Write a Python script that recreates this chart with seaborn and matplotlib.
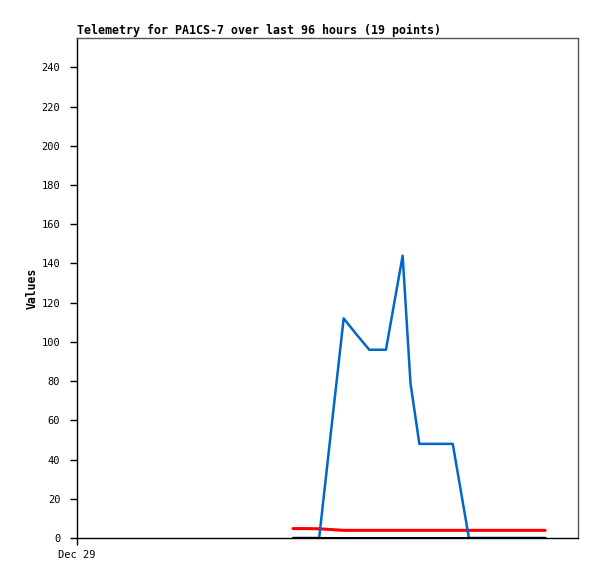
import matplotlib
matplotlib.use("Agg")
from matplotlib import pyplot as plt
import pandas as pd
import seaborn as sns

# Hours since Dec 29 00:00, one entry per telemetry point (19 points)
hours = [41.4, 43.9, 46.4, 48.7, 51.1, 53.5, 56.0, 59.2, 62.4, 63.9,
         65.6, 68.8, 72.0, 75.1, 78.8, 82.4, 86.1, 88.0, 89.7]
ch_blue = [0, 0, 0, 55, 112, 104, 96, 96, 144, 79,
           48, 48, 48, 0, 0, 0, 0, 0, 0]
ch_red = [4.8, 4.8, 4.7, 4.3, 3.9, 3.9, 3.9, 3.9, 3.9, 3.9,
          3.9, 3.9, 3.9, 3.9, 3.9, 3.9, 3.9, 3.9, 3.9]
ch_black = [0] * 19

y_ticks = list(range(0, 241, 20))
x_tick_labels = ["Dec 29"]

df = pd.concat([
    pd.DataFrame({"hour": hours, "value": ch_red, "channel": "ch3"}),
    pd.DataFrame({"hour": hours, "value": ch_blue, "channel": "ch1"}),
    pd.DataFrame({"hour": hours, "value": ch_black, "channel": "ch2"}),
])

sns.set_style("white")
plt.rcParams["font.family"] = ["DejaVu Sans Mono", "DejaVu Sans"]

fig = plt.figure(figsize=(5.97, 5.79), dpi=100)
ax = fig.add_axes([77 / 597, 41 / 579, 501 / 597, 500 / 579])

palette = {"ch3": "#ff0000", "ch1": "#0066cc", "ch2": "#000000"}
widths = {"ch3": 2.2, "ch1": 1.8, "ch2": 2.2}
for name in ["ch3", "ch1", "ch2"]:
    sub = df[df["channel"] == name]
    sns.lineplot(data=sub, x="hour", y="value", color=palette[name],
                 linewidth=widths[name], ax=ax, legend=False)

ax.set_xlim(0, 96)
ax.set_ylim(0, 255)
ax.set_yticks(y_ticks)
ax.set_yticklabels([str(v) for v in y_ticks])
ax.set_xticks([0])
ax.set_xticklabels(x_tick_labels)
ax.tick_params(axis="both", direction="out", length=5, width=1, color="black",
               labelsize=7.5, labelcolor="black")
ax.tick_params(axis="y", pad=7)
ax.tick_params(axis="x", pad=4)
ax.tick_params(left=True, bottom=True)

for side in ["left", "bottom"]:
    ax.spines[side].set_color("black")
    ax.spines[side].set_linewidth(1)
for side in ["top", "right"]:
    ax.spines[side].set_color("#555555")
    ax.spines[side].set_linewidth(1)

ax.set_xlabel("")
ax.set_ylabel("Values", fontsize=8.3, fontweight="bold", color="black", labelpad=2)
ax.set_title("Telemetry for PA1CS-7 over last 96 hours (19 points)",
             loc="left", fontsize=8.4, fontweight="bold", color="black", pad=3)

fig.savefig("out.png", dpi=100)
plt.close(fig)
